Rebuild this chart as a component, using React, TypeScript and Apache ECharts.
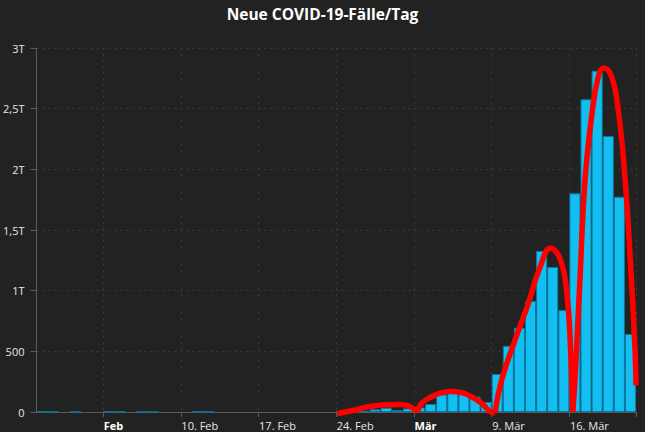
import React, { useEffect, useRef } from "react";
import * as echarts from "echarts";

// Daily categories: 28 Jan 2020 .. 21 Mar 2020
const startDate = "2020-01-28";
const dayCount = 54;

// New cases per day
const newCases = [
  4, 1, 0, 1, 0, 0, 2, 1, 0, 1, 1, 0, 0, 0, 2, 2,
  0, 0, 0, 0, 0, 0, 0, 0, 0, 0, 0,
  2, 5, 10, 22, 35, 16, 30,
  38, 66, 145, 154, 155, 126, 82,
  313, 545, 695, 915, 1327, 1195, 840,
  1802, 2577, 2813, 2275, 1774, 643,
];

// Tick dates (Mondays) and their labels
const tickDates = ["2020-02-03", "2020-02-10", "2020-02-17", "2020-02-24", "2020-03-02", "2020-03-09", "2020-03-16"];
const tickTexts = ["Feb", "10. Feb", "17. Feb", "24. Feb", "Mär", "9. Mär", "16. Mär"];
const boldTicks = ["Feb", "Mär"];

// Red "wave" annotation arches: [day offset from start, value]
const wave1 = [[27.1, -12], [28.5, 12], [29.6, 38], [31.1, 58], [32.7, 62], [33.6, 48], [34.3, 0]];
const wave2 = [[34.3, 0], [34.7, 72], [35.6, 126], [36.5, 159], [37.4, 172], [38.3, 159], [39.2, 126], [40.1, 72], [40.8, 8], [41.3, -8]];
const wave3 = [[41.3, -8], [41.9, 264], [43.1, 593], [44.3, 896], [45.3, 1180], [46.3, 1349], [47.2, 1253], [47.8, 950], [48.1, 538], [48.3, 0]];
const wave4 = [[48.3, 0], [48.5, 264], [48.95, 1088], [49.4, 1900], [50.0, 2434], [50.6, 2764], [51.1, 2835], [51.8, 2764], [52.4, 2489], [53.0, 1939], [53.4, 1390], [53.9, 538], [54.0, 220]];

const yTickLabels: Record<number, string> = {
  0: "0", 500: "500", 1000: "1T", 1500: "1,5T", 2000: "2T", 2500: "2,5T", 3000: "3T",
};

function buildDays(): string[] {
  const out: string[] = [];
  const d = new Date(startDate + "T00:00:00Z");
  for (let i = 0; i < dayCount; i++) {
    const t = new Date(d.getTime() + i * 86400000);
    out.push(t.toISOString().slice(0, 10));
  }
  return out;
}

export default function App() {
  const ref = useRef<HTMLDivElement>(null);
  useEffect(() => {
    if (!ref.current) return;
    const chart = echarts.init(ref.current, undefined, { renderer: "svg" });
    const days = buildDays();
    const isTick = (i: number) => tickDates.indexOf(days[i]) >= 0;
    const font = "'Open Sans', 'Noto Sans', sans-serif";
    const waveStyle = {
      type: "line" as const,
      xAxisIndex: 1,
      yAxisIndex: 0,
      smooth: 0.45,
      symbol: "none",
      clip: false,
      lineStyle: { color: "#ff0000", width: 5.5 },
      z: 5,
    };
    chart.setOption({
      animation: false,
      backgroundColor: "#222222",
      title: {
        text: "Neue COVID-19-Fälle/Tag",
        left: "center",
        top: 1,
        textStyle: { color: "#ffffff", fontSize: 15.5, fontWeight: "bold", fontFamily: font },
      },
      grid: { left: 33, right: 9, top: 48, bottom: 20, containLabel: false },
      xAxis: [
        {
          type: "category",
          data: days,
          boundaryGap: true,
          axisLine: { show: true, lineStyle: { color: "#5a5a5a", width: 1 } },
          axisTick: {
            show: true,
            length: 5,
            interval: (i: number) => isTick(i),
            lineStyle: { color: "#5a5a5a" },
          },
          splitLine: {
            show: true,
            interval: (i: number) => isTick(i),
            lineStyle: { color: "#3a3a3a", type: [2, 4] },
          },
          axisLabel: {
            interval: (i: number) => isTick(i),
            align: "left",
            margin: 8,
            padding: [0, 0, 0, -5],
            color: "#e6e6e6",
            fontSize: 11,
            fontFamily: font,
            formatter: (v: string) => {
              const k = tickDates.indexOf(v);
              if (k < 0) return "";
              const t = tickTexts[k];
              return boldTicks.indexOf(t) >= 0 ? "{b|" + t + "}" : t;
            },
            rich: {
              b: { fontWeight: "bold", color: "#ffffff", fontSize: 11, fontFamily: font },
            },
          },
        },
        {
          type: "value",
          min: 0,
          max: dayCount,
          show: false,
          splitLine: { show: false },
        },
      ],
      yAxis: {
        type: "value",
        min: 0,
        max: 3000,
        interval: 500,
        axisLine: { show: true, lineStyle: { color: "#5a5a5a", width: 1 } },
        axisTick: { show: true, length: 6, lineStyle: { color: "#5a5a5a" } },
        splitLine: { show: true, lineStyle: { color: "#3a3a3a", type: [2, 4] } },
        axisLabel: {
          margin: 12,
          color: "#e6e6e6",
          fontSize: 11,
          fontFamily: font,
          formatter: (v: number) => yTickLabels[v] ?? String(v),
        },
      },
      series: [
        {
          type: "bar",
          xAxisIndex: 0,
          yAxisIndex: 0,
          barCategoryGap: "0%",
          data: newCases.map((v) => (v === 0 ? "-" : v)),
          itemStyle: { color: "#12bff0", borderColor: "#0a78a0", borderWidth: 1 },
          z: 2,
        },
        { ...waveStyle, data: wave1 },
        { ...waveStyle, data: wave2 },
        { ...waveStyle, data: wave3 },
        { ...waveStyle, data: wave4 },
      ],
    });
    return () => chart.dispose();
  }, []);
  return (
    <div
      ref={ref}
      style={{ position: "fixed", left: 0, top: 0, width: 645, height: 432 }}
    />
  );
}
